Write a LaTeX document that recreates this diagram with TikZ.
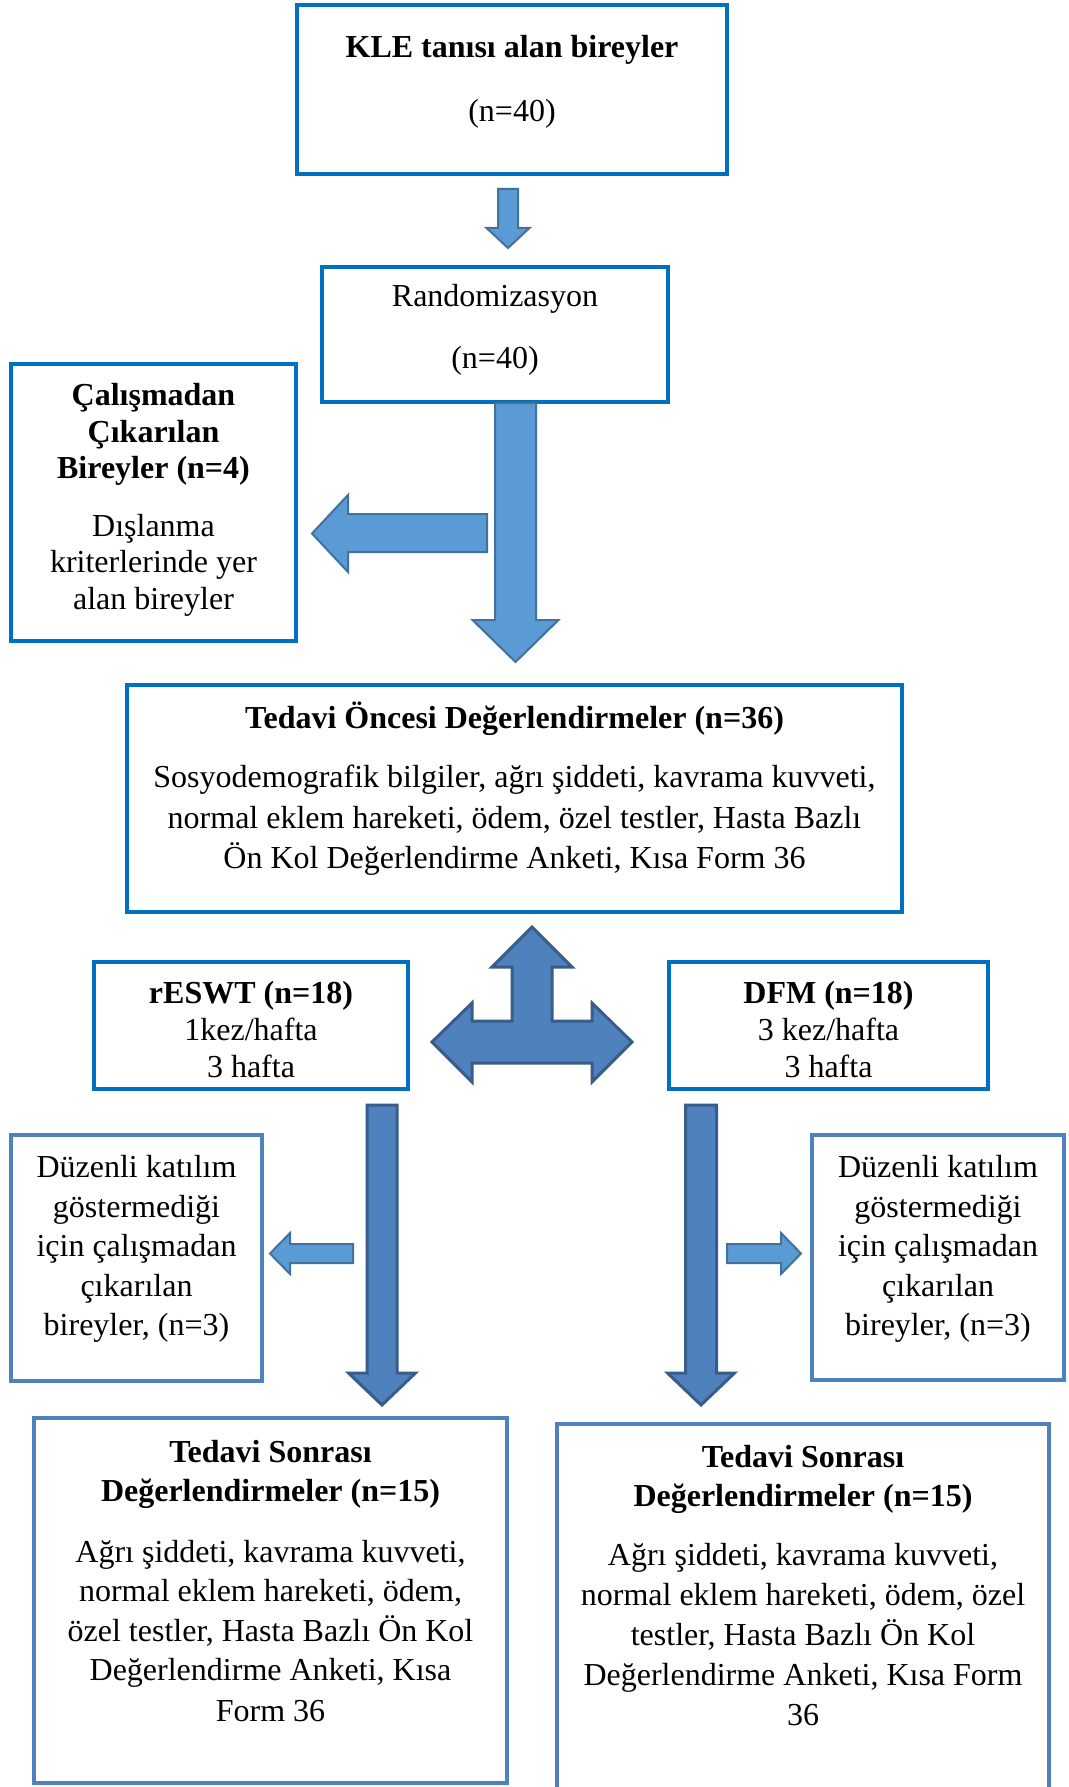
\documentclass[tikz,border=0pt]{standalone}
\usepackage{fontspec}
\setmainfont{Liberation Serif}
\definecolor{topblue}{HTML}{0070C0}
\definecolor{lowblue}{HTML}{4F81BD}
\definecolor{lightfill}{HTML}{5B9BD5}
\definecolor{lightline}{HTML}{41719C}
\definecolor{darkfill}{HTML}{4F81BD}
\definecolor{darkline}{HTML}{385D8A}
\newcommand\tline[4]{\node[txt] (#1) at (#2,#3) {#4};}
\tikzset{
  box/.style={draw=topblue,line width=3pt,rectangle,inner sep=0pt,outer sep=0pt},
  lowbox/.style={box,draw=lowblue},
  sz/.style 2 args={minimum width=#1*0.75pt,minimum height=#2*0.75pt},
  txt/.style={anchor=base,inner sep=0pt,font=\fontsize{24pt}{30pt}\selectfont},
  lightarrow/.style={fill=lightfill,draw=lightline,line width=1.5pt,line join=miter},
  darkarrow/.style={fill=darkfill,draw=darkline,line width=2.25pt,line join=miter}
}
\begin{document}
\begin{tikzpicture}[x=0.75pt,y=-0.75pt]
\path[use as bounding box,fill=white] (0,0) rectangle (1068,1787);
\clip (0,0) rectangle (1068,1787);

% boxes
\node[box,sz={430}{169}] (kle) at (512,89.5) {};
\node[box,sz={346}{135}] (rand) at (495,334.5) {};
\node[box,sz={285}{277}] (excl) at (153.5,502.5) {};
\node[box,sz={775}{227}] (pre) at (514.5,798.5) {};
\node[box,sz={314}{127}] (eswt) at (251,1025.5) {};
\node[box,sz={319}{127}] (dfm) at (828.5,1025.5) {};
\node[lowbox,sz={251}{246}] (dropL) at (136.5,1258) {};
\node[lowbox,sz={252}{245}] (dropR) at (938,1257.5) {};
\node[lowbox,sz={473}{365}] (postL) at (270.5,1600.5) {};
\node[lowbox,sz={492}{376}] (postR) at (803,1612) {};

% block arrows
\draw[lightarrow] (498,189) -- (518,189) -- (518,228) -- (529.5,228) -- (508,248) -- (486.5,228) -- (498,228) -- cycle;
\draw[lightarrow] (495,403) -- (536,403) -- (536,620) -- (558.5,620) -- (515.5,662) -- (472.5,620) -- (495,620) -- cycle;
\draw[lightarrow] (487,514) -- (348,514) -- (348,495) -- (312,533.5) -- (348,572) -- (348,552) -- (487,552) -- cycle;
\draw[darkarrow] (532,927) -- (572,967) -- (552,967) -- (552,1021) -- (592,1021) -- (592,1003) -- (632,1042) -- (592,1082) -- (592,1063) -- (472,1063) -- (472,1082) -- (432,1042) -- (472,1003) -- (472,1021) -- (512,1021) -- (512,967) -- (492,967) -- cycle;
\draw[darkarrow] (367,1105) -- (397,1105) -- (397,1373) -- (415.5,1373) -- (382,1405) -- (348.5,1373) -- (367,1373) -- cycle;
\draw[darkarrow] (685.5,1105) -- (716.5,1105) -- (716.5,1373) -- (734.5,1373) -- (701,1405) -- (667.5,1373) -- (685.5,1373) -- cycle;
\draw[lightarrow] (353,1244) -- (290,1244) -- (290,1233) -- (270,1253.5) -- (290,1274) -- (290,1263) -- (353,1263) -- cycle;
\draw[lightarrow] (727,1244) -- (781,1244) -- (781,1233) -- (801,1253.5) -- (781,1274) -- (781,1263) -- (727,1263) -- cycle;

% texts
\tline{t1a}{512}{58}{\textbf{KLE tanısı alan bireyler}}
\tline{t1b}{512}{122}{(n=40)}
\tline{t2a}{495}{306}{Randomizasyon}
\tline{t2b}{495}{368}{(n=40)}
\tline{t3a}{153.5}{405}{\textbf{Çalışmadan}}
\tline{t3b}{153.5}{442}{\textbf{Çıkarılan}}
\tline{t3c}{153.5}{478}{\textbf{Bireyler (n=4)}}
\tline{t3d}{153.5}{536}{Dışlanma}
\tline{t3e}{153.5}{572}{kriterlerinde yer}
\tline{t3f}{153.5}{609}{alan bireyler}
\tline{t4a}{514.5}{728}{\textbf{Tedavi Öncesi Değerlendirmeler (n=36)}}
\tline{t4b}{514.5}{787}{Sosyodemografik bilgiler, ağrı şiddeti, kavrama kuvveti,}
\tline{t4c}{514.5}{828}{normal eklem hareketi, ödem, özel testler, Hasta Bazlı}
\tline{t4d}{514.5}{868}{Ön Kol Değerlendirme Anketi, Kısa Form 36}
\tline{t5a}{251}{1003}{\textbf{rESWT (n=18)}}
\tline{t5b}{251}{1040}{1kez/hafta}
\tline{t5c}{251}{1077}{3 hafta}
\tline{t6a}{828.5}{1003}{\textbf{DFM (n=18)}}
\tline{t6b}{828.5}{1040}{3 kez/hafta}
\tline{t6c}{828.5}{1077}{3 hafta}
\tline{t7a}{136.5}{1177}{Düzenli katılım}
\tline{t7b}{136.5}{1217}{göstermediği}
\tline{t7c}{136.5}{1256}{için çalışmadan}
\tline{t7d}{136.5}{1296}{çıkarılan}
\tline{t7e}{136.5}{1335}{bireyler, (n=3)}
\tline{t8a}{938}{1177}{Düzenli katılım}
\tline{t8b}{938}{1217}{göstermediği}
\tline{t8c}{938}{1256}{için çalışmadan}
\tline{t8d}{938}{1296}{çıkarılan}
\tline{t8e}{938}{1335}{bireyler, (n=3)}
\tline{t9a}{270.5}{1462}{\textbf{Tedavi Sonrası}}
\tline{t9b}{270.5}{1501}{\textbf{Değerlendirmeler (n=15)}}
\tline{t9c}{270.5}{1562}{Ağrı şiddeti, kavrama kuvveti,}
\tline{t9d}{270.5}{1601}{normal eklem hareketi, ödem,}
\tline{t9e}{270.5}{1641}{özel testler, Hasta Bazlı Ön Kol}
\tline{t9f}{270.5}{1680}{Değerlendirme Anketi, Kısa}
\tline{t9g}{270.5}{1721}{Form 36}
\tline{t10a}{803}{1467}{\textbf{Tedavi Sonrası}}
\tline{t10b}{803}{1506}{\textbf{Değerlendirmeler (n=15)}}
\tline{t10c}{803}{1565}{Ağrı şiddeti, kavrama kuvveti,}
\tline{t10d}{803}{1605}{normal eklem hareketi, ödem, özel}
\tline{t10e}{803}{1645}{testler, Hasta Bazlı Ön Kol}
\tline{t10f}{803}{1685}{Değerlendirme Anketi, Kısa Form}
\tline{t10g}{803}{1725}{36}
\end{tikzpicture}
\end{document}
